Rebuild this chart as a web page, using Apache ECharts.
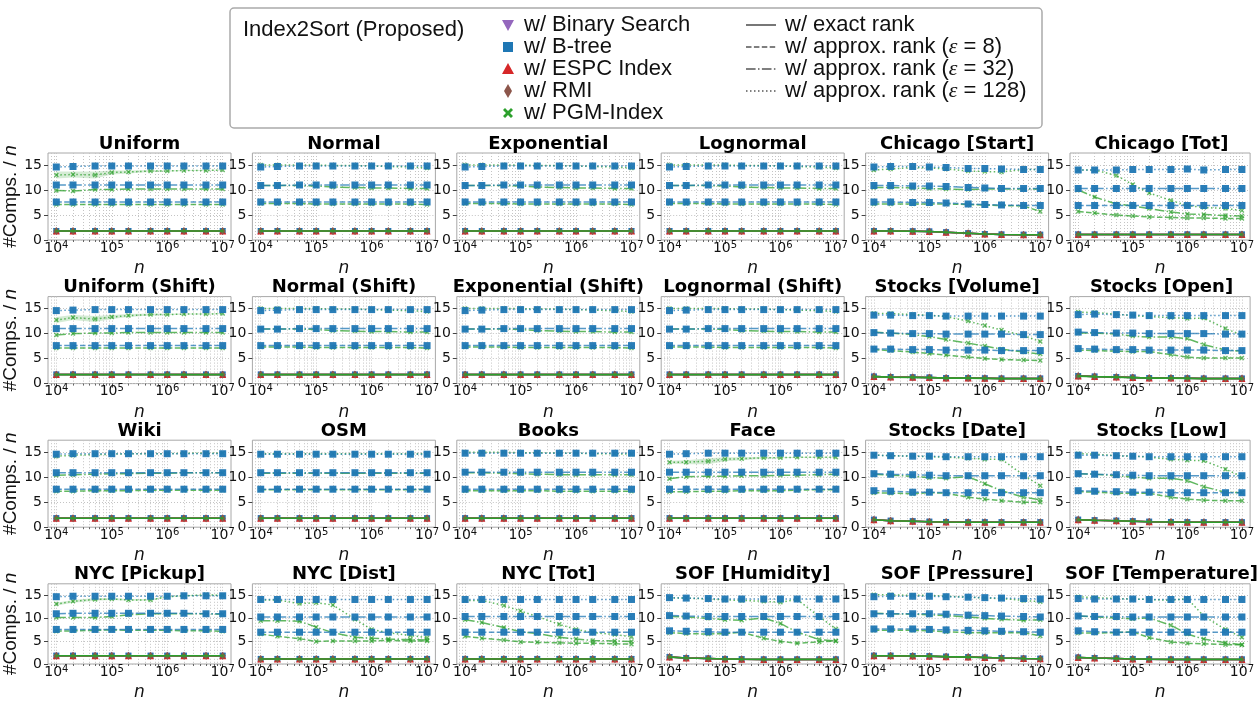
<!DOCTYPE html>
<html>
<head>
<meta charset="utf-8">
<script src="https://cdn.jsdelivr.net/npm/echarts@6/dist/echarts.min.js"></script>
<style>
  html, body { margin: 0; padding: 0; background: #fff; }
  #chart { width: 1257px; height: 702px; }
</style>
</head>
<body>
<div id="chart"></div>
<script>
// Input sizes n on the x axis
const nValues = [1e4, 2e4, 5e4, 1e5, 2e5, 5e5, 1e6, 2e6, 5e6, 1e7];
const majorTicks = [1e4, 1e5, 1e6, 1e7];
const yTicks = [0, 5, 10, 15];

// Panel titles, row by row
const datasetNames = [
  'Uniform', 'Normal', 'Exponential', 'Lognormal', 'Chicago [Start]', 'Chicago [Tot]',
  'Uniform (Shift)', 'Normal (Shift)', 'Exponential (Shift)', 'Lognormal (Shift)', 'Stocks [Volume]', 'Stocks [Open]',
  'Wiki', 'OSM', 'Books', 'Face', 'Stocks [Date]', 'Stocks [Low]',
  'NYC [Pickup]', 'NYC [Dist]', 'NYC [Tot]', 'SOF [Humidity]', 'SOF [Pressure]', 'SOF [Temperature]'
];

// #Comps. / n with exact rank (all indexes coincide)
const exactRank = [
  [1.8,1.8,1.8,1.8,1.8,1.8,1.8,1.8,1.8,1.8],
  [1.8,1.8,1.8,1.8,1.8,1.8,1.8,1.8,1.8,1.8],
  [1.8,1.8,1.8,1.8,1.8,1.8,1.8,1.8,1.8,1.8],
  [1.8,1.8,1.8,1.8,1.8,1.8,1.8,1.8,1.8,1.8],
  [1.8,1.8,1.75,1.7,1.55,1.35,1.2,1.1,1.05,1.05],
  [1.1,1.1,1.1,1.1,1.1,1.1,1.1,1.1,1.1,1.1],
  [1.8,1.8,1.8,1.8,1.8,1.8,1.8,1.8,1.8,1.8],
  [1.8,1.8,1.8,1.8,1.8,1.8,1.8,1.8,1.8,1.8],
  [1.8,1.8,1.8,1.8,1.8,1.8,1.8,1.8,1.8,1.8],
  [1.8,1.8,1.8,1.8,1.8,1.8,1.8,1.8,1.8,1.8],
  [1.4,1.3,1.25,1.2,1.1,1.1,1.05,1.0,1.0,1.0],
  [1.5,1.4,1.3,1.2,1.1,1.1,1.05,1.0,1.0,1.0],
  [1.8,1.8,1.8,1.8,1.8,1.8,1.8,1.8,1.8,1.8],
  [1.8,1.8,1.8,1.8,1.8,1.8,1.8,1.8,1.8,1.8],
  [1.8,1.8,1.8,1.8,1.8,1.8,1.8,1.8,1.8,1.8],
  [1.8,1.8,1.8,1.8,1.8,1.8,1.8,1.8,1.8,1.8],
  [1.5,1.3,1.2,1.1,1.05,1.0,1.0,1.0,1.0,1.0],
  [1.5,1.4,1.3,1.2,1.1,1.05,1.0,1.0,1.0,1.0],
  [1.8,1.8,1.8,1.8,1.8,1.8,1.8,1.8,1.8,1.8],
  [1.1,1.1,1.1,1.1,1.1,1.1,1.1,1.1,1.1,1.1],
  [1.1,1.1,1.1,1.1,1.1,1.1,1.1,1.1,1.1,1.1],
  [1.5,1.3,1.2,1.1,1.05,1.0,1.0,1.0,1.0,1.0],
  [1.8,1.8,1.75,1.7,1.6,1.5,1.4,1.3,1.2,1.15],
  [1.4,1.3,1.2,1.1,1.05,1.0,1.0,1.0,1.0,1.0]
];

// B-tree, approx. rank eps = 8
const btreeEps8 = [
  [7.6,7.6,7.6,7.6,7.6,7.6,7.6,7.6,7.6,7.6],
  [7.6,7.6,7.6,7.6,7.6,7.6,7.6,7.6,7.6,7.6],
  [7.6,7.6,7.6,7.6,7.6,7.6,7.6,7.6,7.6,7.6],
  [7.6,7.6,7.6,7.6,7.6,7.6,7.6,7.6,7.6,7.6],
  [7.6,7.6,7.5,7.5,7.4,7.2,7.1,7.0,6.9,6.9],
  [6.9,6.9,6.9,6.9,6.9,6.9,6.9,6.9,6.9,6.9],
  [7.6,7.6,7.6,7.6,7.6,7.6,7.6,7.6,7.6,7.6],
  [7.6,7.6,7.6,7.6,7.6,7.6,7.6,7.6,7.6,7.6],
  [7.6,7.6,7.6,7.6,7.6,7.6,7.6,7.6,7.6,7.6],
  [7.6,7.6,7.6,7.6,7.6,7.6,7.6,7.6,7.6,7.6],
  [6.9,6.9,6.8,6.8,6.7,6.7,6.7,6.6,6.6,6.6],
  [7.0,6.9,6.8,6.8,6.7,6.7,6.7,6.7,6.6,6.6],
  [7.6,7.6,7.6,7.6,7.6,7.6,7.6,7.6,7.6,7.6],
  [7.6,7.6,7.6,7.6,7.6,7.6,7.6,7.6,7.6,7.6],
  [7.6,7.6,7.6,7.6,7.6,7.6,7.6,7.6,7.6,7.6],
  [7.6,7.6,7.6,7.6,7.6,7.6,7.6,7.6,7.6,7.6],
  [7.3,7.2,7.0,7.0,6.9,6.9,6.9,6.9,6.9,6.9],
  [7.3,7.2,7.1,7.0,7.0,6.9,6.9,6.9,6.9,6.9],
  [7.5,7.5,7.5,7.5,7.5,7.5,7.5,7.5,7.5,7.5],
  [6.9,6.9,6.9,6.9,6.9,6.9,6.9,6.9,6.9,6.9],
  [6.9,6.9,6.9,6.9,6.9,6.9,6.9,6.9,6.9,6.9],
  [7.2,7.1,7.0,6.9,6.9,6.9,6.9,6.9,6.9,6.9],
  [7.6,7.6,7.6,7.5,7.4,7.3,7.2,7.1,7.0,6.9],
  [7.2,7.0,6.9,6.9,6.9,6.9,6.9,6.9,6.9,6.9]
];

// B-tree, approx. rank eps = 32
const btreeEps32 = [
  [11.0,11.0,11.0,11.0,11.0,11.0,11.0,11.0,11.0,11.0],
  [10.9,10.9,11.0,11.0,11.0,11.0,11.0,11.0,11.0,11.0],
  [10.9,10.9,11.0,11.0,11.0,11.0,11.0,11.0,11.0,11.0],
  [10.9,10.9,11.0,11.0,11.0,11.0,11.0,11.0,11.0,11.0],
  [10.9,10.9,10.8,10.8,10.7,10.5,10.4,10.3,10.3,10.3],
  [10.3,10.3,10.3,10.3,10.3,10.3,10.3,10.3,10.3,10.3],
  [11.0,11.0,11.0,11.0,11.0,11.0,11.0,11.0,11.0,11.0],
  [10.9,10.9,11.0,11.0,11.0,11.0,11.0,11.0,11.0,11.0],
  [10.9,10.9,11.0,11.0,11.0,11.0,11.0,11.0,11.0,11.0],
  [10.9,10.9,11.0,11.0,11.0,11.0,11.0,11.0,11.0,11.0],
  [10.2,10.1,10.0,10.0,9.9,9.9,9.9,9.9,9.8,9.8],
  [10.3,10.2,10.1,10.1,10.0,10.0,10.0,10.0,9.9,9.9],
  [10.9,10.9,10.9,10.9,10.9,10.9,10.9,10.9,10.9,10.9],
  [10.9,10.9,10.9,10.9,10.9,10.9,10.9,10.9,10.9,10.9],
  [11.0,11.0,11.0,11.0,11.0,11.0,11.0,11.0,11.0,11.0],
  [11.0,11.0,11.0,11.0,11.0,11.0,11.0,11.0,11.0,11.0],
  [10.7,10.6,10.5,10.4,10.3,10.3,10.3,10.3,10.3,10.3],
  [10.7,10.6,10.5,10.4,10.3,10.3,10.3,10.3,10.3,10.3],
  [10.9,11.0,11.0,11.0,11.0,11.0,11.0,11.0,10.9,10.9],
  [10.2,10.2,10.2,10.2,10.2,10.2,10.2,10.2,10.2,10.2],
  [10.3,10.3,10.3,10.3,10.3,10.3,10.3,10.3,10.3,10.3],
  [10.5,10.4,10.3,10.3,10.3,10.3,10.3,10.3,10.3,10.3],
  [10.9,10.9,10.9,10.9,10.8,10.6,10.5,10.4,10.3,10.2],
  [10.4,10.3,10.3,10.2,10.2,10.2,10.2,10.2,10.2,10.2]
];

// B-tree, approx. rank eps = 128
const btreeEps128 = [
  [14.6,14.7,14.8,14.8,14.8,14.8,14.8,14.8,14.8,14.8],
  [14.6,14.7,14.8,14.8,14.8,14.8,14.8,14.8,14.8,14.8],
  [14.6,14.7,14.8,14.8,14.8,14.8,14.8,14.8,14.8,14.8],
  [14.6,14.7,14.8,14.8,14.8,14.8,14.8,14.8,14.8,14.8],
  [14.6,14.7,14.7,14.6,14.5,14.3,14.3,14.2,14.1,14.1],
  [14.0,14.0,14.0,14.1,14.1,14.1,14.2,14.0,14.1,14.1],
  [14.6,14.7,14.8,14.8,14.8,14.8,14.8,14.8,14.8,14.8],
  [14.6,14.7,14.8,14.8,14.8,14.8,14.8,14.8,14.8,14.8],
  [14.6,14.7,14.8,14.8,14.8,14.8,14.8,14.8,14.8,14.8],
  [14.6,14.7,14.8,14.8,14.8,14.8,14.8,14.8,14.8,14.8],
  [13.7,13.7,13.6,13.6,13.5,13.5,13.5,13.5,13.5,13.5],
  [13.8,13.9,13.8,13.7,13.6,13.6,13.6,13.6,13.6,13.6],
  [14.6,14.7,14.7,14.7,14.7,14.7,14.7,14.7,14.7,14.7],
  [14.6,14.6,14.6,14.6,14.6,14.6,14.6,14.6,14.6,14.6],
  [14.8,14.8,14.8,14.8,14.8,14.8,14.8,14.8,14.8,14.8],
  [14.6,14.7,14.8,14.8,14.8,14.8,14.8,14.8,14.8,14.8],
  [14.4,14.3,14.2,14.2,14.1,14.1,14.1,14.1,14.1,14.1],
  [14.4,14.4,14.3,14.2,14.1,14.1,14.1,14.1,14.1,14.1],
  [14.6,14.7,14.7,14.7,14.7,14.7,14.7,14.8,14.8,14.8],
  [14.0,14.0,14.0,14.0,14.0,14.0,14.0,14.0,14.0,14.0],
  [14.0,14.0,14.0,14.0,14.0,14.0,14.0,14.0,14.0,14.0],
  [14.4,14.3,14.2,14.1,14.1,14.1,14.1,14.1,14.1,14.1],
  [14.6,14.7,14.7,14.7,14.6,14.5,14.4,14.3,14.2,14.1],
  [14.2,14.1,14.1,14.1,14.0,14.0,14.0,14.0,14.0,14.0]
];

// PGM-Index, approx. rank eps = 8
const pgmEps8 = [
  [7.1,7.1,7.1,7.1,7.1,7.1,7.1,7.1,7.1,7.1],
  [7.3,7.3,7.3,7.2,7.2,7.2,7.2,7.2,7.2,7.1],
  [7.3,7.3,7.3,7.2,7.2,7.2,7.2,7.2,7.2,7.1],
  [7.3,7.3,7.3,7.2,7.2,7.2,7.2,7.2,7.2,7.1],
  [7.2,7.2,7.2,7.2,7.2,7.1,7.0,6.9,6.8,5.7],
  [5.7,5.4,5.0,4.8,4.6,4.5,4.4,4.4,4.3,4.3],
  [7.1,7.1,7.1,7.1,7.1,7.1,7.1,7.1,7.1,7.1],
  [7.3,7.3,7.3,7.2,7.2,7.2,7.2,7.2,7.2,7.1],
  [7.3,7.3,7.3,7.2,7.2,7.2,7.2,7.2,7.2,7.1],
  [7.3,7.3,7.3,7.2,7.2,7.2,7.2,7.2,7.2,7.1],
  [6.8,6.6,6.3,6.0,5.7,5.3,5.0,4.8,4.7,4.6],
  [6.7,6.6,6.5,6.4,6.4,5.8,5.3,5.1,5.1,5.1],
  [7.2,7.2,7.3,7.3,7.3,7.4,7.4,7.4,7.4,7.4],
  [7.5,7.5,7.5,7.5,7.5,7.5,7.5,7.5,7.5,7.5],
  [7.3,7.3,7.3,7.3,7.3,7.2,7.2,7.2,7.2,7.2],
  [7.1,7.1,7.2,7.2,7.3,7.3,7.3,7.4,7.5,7.5],
  [6.9,6.8,6.7,6.9,6.8,6.0,5.6,5.3,5.0,5.0],
  [7.1,7.0,6.8,6.8,6.8,6.0,5.6,5.4,5.3,5.3],
  [7.1,7.2,7.3,7.4,7.3,7.3,7.3,7.2,7.2,7.1],
  [6.5,6.0,5.5,4.9,5.0,5.0,5.0,5.1,5.0,5.0],
  [6.0,5.6,5.2,4.8,4.7,4.6,4.5,4.5,4.4,4.3],
  [6.8,6.6,6.5,6.6,6.9,5.6,4.9,4.5,4.8,5.0],
  [7.3,7.3,7.3,7.2,7.0,6.8,6.8,6.8,6.8,6.1],
  [6.7,6.7,6.8,7.0,5.7,4.8,4.5,4.4,4.2,4.2]
];

// PGM-Index, approx. rank eps = 32
const pgmEps32 = [
  [9.9,9.8,10.1,10.1,10.2,10.2,10.2,10.2,10.2,10.2],
  [10.9,10.9,10.9,10.8,10.6,10.5,10.4,10.4,10.3,10.3],
  [10.9,10.9,10.9,10.8,10.6,10.5,10.4,10.4,10.3,10.3],
  [10.9,10.9,10.9,10.8,10.6,10.5,10.4,10.4,10.3,10.3],
  [10.5,10.5,10.4,10.3,10.2,10.1,10.2,10.2,10.2,10.2],
  [10.0,8.6,7.2,6.8,6.3,5.6,5.2,5.1,4.9,4.8],
  [9.7,10.0,10.1,10.1,10.2,10.2,10.2,10.2,10.2,10.2],
  [10.9,10.9,10.9,10.8,10.6,10.5,10.4,10.4,10.3,10.3],
  [10.9,10.9,10.9,10.8,10.6,10.5,10.4,10.4,10.3,10.3],
  [10.9,10.9,10.9,10.8,10.6,10.5,10.4,10.4,10.3,10.3],
  [10.3,10.1,9.8,9.4,8.8,8.1,7.5,6.9,6.3,5.9],
  [10.1,10.1,9.9,9.5,9.3,9.3,9.0,7.8,6.7,6.5],
  [10.4,10.5,10.6,10.7,10.7,10.8,10.8,10.9,10.9,10.9],
  [10.8,10.8,10.8,10.8,10.8,10.8,10.8,10.8,10.8,10.8],
  [10.9,10.9,10.8,10.7,10.6,10.5,10.5,10.5,10.5,10.5],
  [9.7,10.1,10.2,10.2,10.3,10.3,10.4,10.4,10.5,10.6],
  [10.6,10.4,10.2,9.9,9.8,10.1,8.7,7.3,6.0,5.5],
  [10.7,10.6,10.3,10.0,9.8,9.8,9.3,8.1,7.0,6.9],
  [10.1,10.1,10.1,10.3,10.7,10.9,10.9,10.9,10.9,10.8],
  [9.4,9.4,9.3,8.0,6.8,5.8,5.6,5.4,5.3,5.2],
  [9.6,9.0,7.9,7.0,6.6,5.8,5.4,5.1,5.0,4.9],
  [10.3,10.2,9.9,9.6,9.5,10.0,8.8,6.9,5.3,5.0],
  [11.0,10.9,10.8,10.7,10.5,10.2,9.9,9.7,9.5,9.6],
  [10.4,10.2,10.0,9.8,10.0,8.4,6.5,5.4,4.6,4.2]
];

// PGM-Index, approx. rank eps = 128
const pgmEps128 = [
  [13.0,13.1,13.0,13.5,13.6,13.8,13.8,13.9,13.9,14.0],
  [15.0,15.0,15.0,15.0,14.9,14.9,14.8,14.7,14.6,14.4],
  [15.0,15.0,15.0,15.0,14.9,14.9,14.8,14.7,14.6,14.4],
  [15.0,15.0,15.0,15.0,14.9,14.9,14.8,14.7,14.6,14.4],
  [14.0,14.2,14.5,14.4,14.2,13.8,13.7,13.6,14.1,14.1],
  [14.0,14.0,12.9,11.1,9.4,7.9,6.9,6.5,6.3,5.9],
  [12.7,13.2,12.9,13.3,13.6,13.8,13.8,13.9,13.9,14.0],
  [15.0,15.0,15.0,15.0,14.9,14.9,14.8,14.7,14.6,14.4],
  [15.0,15.0,15.0,15.0,14.9,14.9,14.8,14.7,14.6,14.4],
  [15.0,15.0,15.0,15.0,14.9,14.9,14.8,14.7,14.6,14.4],
  [14.0,14.0,13.8,13.7,13.4,12.5,11.6,10.7,9.6,8.4],
  [14.3,14.2,13.9,13.6,13.4,13.2,13.0,13.1,11.0,9.7],
  [14.2,14.4,14.5,14.6,14.7,14.7,14.7,14.8,14.8,14.8],
  [14.7,14.7,14.7,14.7,14.7,14.7,14.7,14.7,14.7,14.7],
  [15.0,15.0,15.0,14.9,14.9,14.8,14.8,14.7,14.7,14.6],
  [13.0,13.0,13.2,13.6,13.7,13.9,13.9,14.0,14.0,14.0],
  [14.4,14.3,14.2,14.1,14.0,13.8,13.6,13.6,10.4,8.3],
  [14.7,14.6,14.3,14.2,14.0,13.6,13.4,13.3,11.6,10.1],
  [13.0,13.6,14.0,14.1,13.9,13.9,14.6,14.8,15.0,14.9],
  [13.9,13.9,13.1,13.3,12.8,9.7,7.5,6.8,6.2,5.7],
  [13.8,13.8,12.7,11.5,10.3,8.6,7.5,6.8,6.4,5.9],
  [14.3,14.3,14.1,13.9,13.8,13.6,13.4,14.0,10.3,7.6],
  [15.0,15.0,14.9,14.9,14.7,14.5,14.3,14.2,13.8,13.5],
  [14.6,14.4,14.2,14.1,14.0,13.8,14.2,10.4,7.5,5.8]
];

// Half-width of the shaded spread around PGM-Index eps = 128 (null: too thin to show)
const pgmEps128Spread = [
  [0.7,0.6,0.7,0.4,0.3,0.2,0.15,0.1,0.1,0.1], null, null, null, null, null,
  [0.6,0.5,0.6,0.4,0.3,0.2,0.15,0.1,0.1,0.1], null, null, null, null, null,
  null, null, null, [0.3,0.4,0.6,0.4,0.3,0.2,0.1,0.1,0.1,0.1], null, null,
  [0.3,0.3,0.3,0.2,0.2,0.2,0.1,0.1,0.1,0.1], null, null, null, null, null
];

// ---- layout ----
const COLS = 6;
const LEFT0 = 48, DX = 204.4, PW = 183;
const TOP0 = 153, DY = 143.6, PH = 87;
const X_MIN = 7079.46, X_MAX = 14125375;
const Y_MAX = 17.4;

const C = {
  bs: '#9467bd', btree: '#1f77b4', espc: '#d62728', rmi: '#8c564b', pgm: '#2ca02c'
};
const DASH = {
  e8: [5.5, 2.4],
  e32: [9.6, 2.4, 1.5, 2.4],
  e128: [1.5, 2.5]
};
const FONT = 'DejaVu Sans';
const X_SYMBOL = 'path://M2,0L5,3L8,0L10,2L7,5L10,8L8,10L5,7L2,10L0,8L3,5L0,2Z';
const GRID_LINE = { color: '#c4c4c4', type: [1, 2], width: 1 };

const minorTicks = [];
for (let e = 3; e <= 7; e++) {
  for (let m = 2; m <= 9; m++) {
    const v = m * Math.pow(10, e);
    if (v > X_MIN && v < X_MAX) minorTicks.push(v);
  }
}

const chart = echarts.init(document.getElementById('chart'), null, { renderer: 'canvas' });

const grids = [], xAxes = [], yAxes = [], series = [], graphics = [];

function pts(values) {
  return nValues.map((n, k) => [n, values[k]]);
}

datasetNames.forEach((name, i) => {
  const col = i % COLS, row = Math.floor(i / COLS);
  const left = LEFT0 + col * DX;
  const top = TOP0 + row * DY;
  grids.push({
    left: left, top: top, width: PW, height: PH,
    show: true, borderColor: '#a8a8a8', borderWidth: 1, backgroundColor: 'rgba(0,0,0,0)'
  });

  // main log axis with decade labels
  xAxes.push({
    type: 'log', logBase: 10, gridIndex: i, min: X_MIN, max: X_MAX, position: 'bottom',
    axisLine: { show: false },
    axisTick: { show: true, customValues: majorTicks, length: 4, lineStyle: { color: '#444' } },
    axisLabel: {
      customValues: majorTicks, margin: 0, color: '#111',
      formatter: v => '{b|10}{s|' + Math.round(Math.log10(v)) + '}',
      rich: {
        b: { fontFamily: FONT, fontSize: 14, color: '#111' },
        s: { fontFamily: FONT, fontSize: 10, color: '#111', verticalAlign: 'top', padding: [0, 0, 6, 0] }
      }
    },
    splitLine: { show: true, lineStyle: GRID_LINE },
    name: 'n', nameLocation: 'middle', nameGap: 20,
    nameTextStyle: { fontFamily: FONT, fontStyle: 'italic', fontSize: 17, color: '#111' }
  });
  // minor log axis carrying the 2..9 grid lines
  xAxes.push({
    type: 'log', logBase: 10, gridIndex: i, min: X_MIN, max: X_MAX, position: 'bottom',
    axisLine: { show: false },
    axisTick: { show: true, customValues: minorTicks, length: 2, lineStyle: { color: '#666' } },
    axisLabel: { show: false },
    splitLine: { show: true, lineStyle: GRID_LINE }
  });

  const yAxis = {
    type: 'value', gridIndex: i, min: 0, max: Y_MAX,
    axisLine: { show: false },
    axisTick: { show: true, customValues: yTicks, length: 4, lineStyle: { color: '#444' } },
    axisLabel: { customValues: yTicks, margin: 6, fontFamily: FONT, fontSize: 14, color: '#111' },
    splitLine: { show: true, lineStyle: GRID_LINE }
  };
  if (col === 0) {
    yAxis.name = '#Comps. / {i|n}';
    yAxis.nameLocation = 'middle';
    yAxis.nameGap = 25;
    yAxis.nameTextStyle = {
      fontFamily: 'Liberation Sans', fontSize: 19, color: '#111',
      rich: { i: { fontFamily: 'Liberation Sans', fontStyle: 'italic', fontSize: 19, color: '#111' } }
    };
  }
  yAxes.push(yAxis);

  // panel title
  graphics.push({
    type: 'text', x: left + PW / 2, y: top - 9, silent: true,
    style: {
      text: name, fill: '#000', font: 'bold 18px "DejaVu Sans"',
      textAlign: 'center', textVerticalAlign: 'middle'
    }
  });

  const xi = 2 * i, yi = i;
  const base = { type: 'line', xAxisIndex: xi, yAxisIndex: yi, silent: true, animation: false };

  // shaded spread of PGM eps=128, outlined through the axes' own coordinates
  const spread = pgmEps128Spread[i];
  if (spread) {
    const mid = pgmEps128[i];
    series.push({
      type: 'custom', xAxisIndex: xi, yAxisIndex: yi, silent: true, animation: false, z: 1,
      data: [[nValues[0], mid[0]]],
      renderItem: (params, api) => {
        const upper = nValues.map((n, k) => api.coord([n, mid[k] + spread[k]]));
        const lower = nValues.map((n, k) => api.coord([n, mid[k] - spread[k]])).reverse();
        return {
          type: 'polygon',
          shape: { points: upper.concat(lower) },
          style: { fill: 'rgba(44,160,44,0.2)' }
        };
      }
    });
  }

  // PGM-Index approx. rank
  [[pgmEps8, DASH.e8], [pgmEps32, DASH.e32], [pgmEps128, DASH.e128]].forEach(([arr, dash]) => {
    series.push(Object.assign({}, base, {
      z: 2, symbol: X_SYMBOL, symbolSize: 5,
      itemStyle: { color: C.pgm, opacity: 0.7 },
      lineStyle: { color: C.pgm, width: 1.5, type: dash, opacity: 0.75 },
      data: pts(arr[i])
    }));
  });

  // B-tree approx. rank
  [[btreeEps8, DASH.e8], [btreeEps32, DASH.e32], [btreeEps128, DASH.e128]].forEach(([arr, dash]) => {
    series.push(Object.assign({}, base, {
      z: 3, symbol: 'rect', symbolSize: 7,
      itemStyle: { color: C.btree, opacity: 0.95 },
      lineStyle: { color: C.btree, width: 1.5, type: dash, opacity: 0.75 },
      data: pts(arr[i])
    }));
  });

  // exact rank: all five indexes
  const exact = exactRank[i];
  series.push(Object.assign({}, base, {
    z: 4, symbol: 'triangle', symbolRotate: 180, symbolSize: 6,
    itemStyle: { color: C.bs }, lineStyle: { color: C.bs, width: 1.5 }, data: pts(exact)
  }));
  series.push(Object.assign({}, base, {
    z: 4, symbol: 'rect', symbolSize: 6,
    itemStyle: { color: C.btree }, lineStyle: { color: C.btree, width: 1.5 }, data: pts(exact)
  }));
  series.push(Object.assign({}, base, {
    z: 4, symbol: 'triangle', symbolSize: 7,
    itemStyle: { color: C.espc }, lineStyle: { color: C.espc, width: 1.5 }, data: pts(exact)
  }));
  series.push(Object.assign({}, base, {
    z: 4, symbol: 'diamond', symbolSize: [6, 8],
    itemStyle: { color: C.rmi }, lineStyle: { color: C.rmi, width: 1.5 }, data: pts(exact)
  }));
  series.push(Object.assign({}, base, {
    z: 5, symbol: X_SYMBOL, symbolSize: 4,
    itemStyle: { color: C.pgm, opacity: 0.6 }, lineStyle: { color: C.pgm, width: 1.6 }, data: pts(exact)
  }));
});

// ---- legend box ----
const LEG_FONT = '22px "Liberation Sans"';
graphics.push({
  type: 'rect', silent: true, z: 10,
  shape: { x: 230, y: 8, width: 812, height: 120, r: 4 },
  style: { fill: '#fff', stroke: '#aaaaaa', lineWidth: 1.5 }
});
graphics.push({
  type: 'text', x: 243, y: 30, silent: true, z: 11,
  style: { text: 'Index2Sort (Proposed)', font: LEG_FONT, fill: '#111', textVerticalAlign: 'middle' }
});

const rowsY = [25, 47, 69, 91, 113];
const MX = 508;
const markerEls = [
  { type: 'polygon', shape: { points: [[MX - 6, rowsY[0] - 5], [MX + 6, rowsY[0] - 5], [MX, rowsY[0] + 6]] }, style: { fill: C.bs } },
  { type: 'rect', shape: { x: MX - 5, y: rowsY[1] - 5, width: 10, height: 10 }, style: { fill: C.btree } },
  { type: 'polygon', shape: { points: [[MX - 6, rowsY[2] + 5], [MX + 6, rowsY[2] + 5], [MX, rowsY[2] - 6]] }, style: { fill: C.espc } },
  { type: 'polygon', shape: { points: [[MX, rowsY[3] - 7], [MX + 4, rowsY[3]], [MX, rowsY[3] + 7], [MX - 4, rowsY[3]]] }, style: { fill: C.rmi } },
  { type: 'polygon', shape: { points: [
      [MX - 5, rowsY[4] - 3], [MX - 3, rowsY[4] - 5], [MX, rowsY[4] - 2], [MX + 3, rowsY[4] - 5],
      [MX + 5, rowsY[4] - 3], [MX + 2, rowsY[4]], [MX + 5, rowsY[4] + 3], [MX + 3, rowsY[4] + 5],
      [MX, rowsY[4] + 2], [MX - 3, rowsY[4] + 5], [MX - 5, rowsY[4] + 3], [MX - 2, rowsY[4]]
    ] }, style: { fill: C.pgm } }
];
markerEls.forEach(el => graphics.push(Object.assign({ silent: true, z: 11 }, el)));

const methodLabels = ['w/ Binary Search', 'w/ B-tree', 'w/ ESPC Index', 'w/ RMI', 'w/ PGM-Index'];
methodLabels.forEach((t, k) => {
  graphics.push({
    type: 'text', x: 524, y: rowsY[k], silent: true, z: 11,
    style: { text: t, font: LEG_FONT, fill: '#111', textVerticalAlign: 'middle' }
  });
});

const rankLabels = [
  'w/ exact rank',
  'w/ approx. rank ({e|ε} = 8)',
  'w/ approx. rank ({e|ε} = 32)',
  'w/ approx. rank ({e|ε} = 128)'
];
const rankDash = [null, DASH.e8, DASH.e32, DASH.e128];
rankLabels.forEach((t, k) => {
  graphics.push({
    type: 'line', silent: true, z: 11,
    shape: { x1: 746, y1: rowsY[k], x2: 776, y2: rowsY[k] },
    style: { stroke: '#555', lineWidth: 1.6, lineDash: rankDash[k] }
  });
  graphics.push({
    type: 'text', x: 785, y: rowsY[k], silent: true, z: 11,
    style: {
      text: t, font: LEG_FONT, fill: '#111', textVerticalAlign: 'middle',
      rich: { e: { fontFamily: 'Liberation Serif', fontStyle: 'italic', fontSize: 22, fill: '#111' } }
    }
  });
});

chart.setOption({
  animation: false,
  backgroundColor: '#fff',
  grid: grids,
  xAxis: xAxes,
  yAxis: yAxes,
  series: series,
  graphic: graphics
});
</script>
</body>
</html>
